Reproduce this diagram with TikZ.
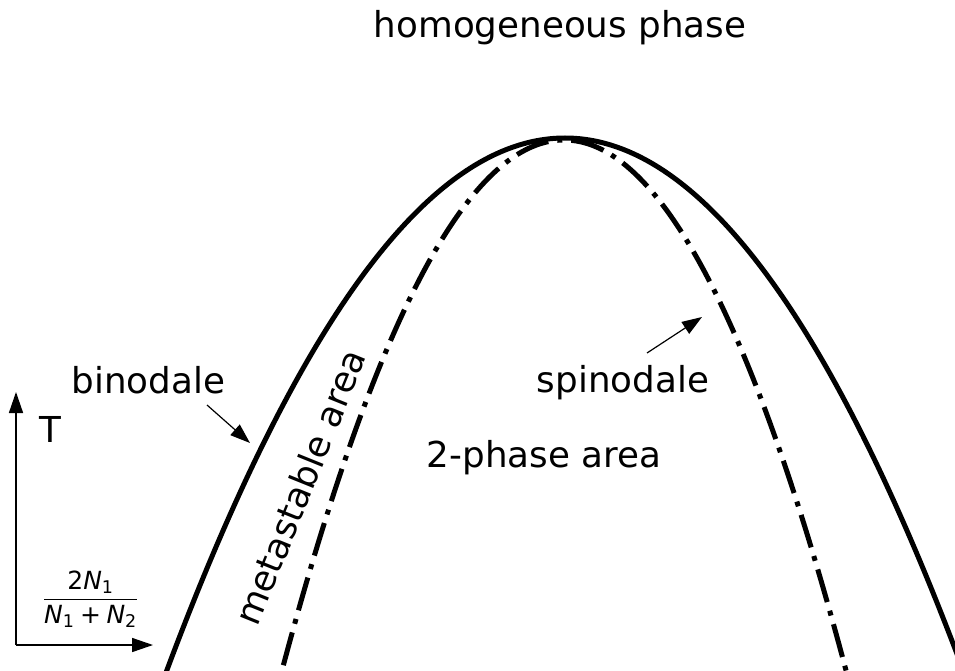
\documentclass[tikz,border=0pt]{standalone}
\usepackage{amsmath}
\usepackage{fontspec}
\setmainfont{DejaVu Sans}
\usetikzlibrary{arrows.meta}
\tikzset{
  lbl/.style={font=\fontsize{35.7}{42}\selectfont, inner sep=0pt, anchor=base},
  binod/.style={line width=5pt, line join=round},
  spinod/.style={line width=5pt, dash pattern=on 34pt off 9pt on 5pt off 9pt},
  axis/.style={line width=1.5pt, -{Triangle[length=21pt,width=14pt]}},
  pointer/.style={line width=1.2pt, -{Triangle[length=20pt,width=14pt]}}
}
\begin{document}
\begin{tikzpicture}[x=1pt,y=-1pt]
\useasboundingbox (0,0) rectangle (955,671);
\begin{scope}
\clip (0,0) rectangle (955,671);
\draw[binod] plot[domain=-1:1, samples=241, smooth] ({565+420*\x},{138+592.3*\x*\x});
\draw[spinod] plot[domain=-1:1, samples=241, smooth] ({564+295*\x},{140+580.4*\x*\x});
\end{scope}
% axes
\coordinate (O) at (16,645);
\coordinate (Ty) at (16,392);
\coordinate (Tx) at (153,645);
\draw[axis] (O) -- (Ty);
\draw[axis] (O) -- (Tx);
\node[lbl] (T) at (50,442) {T};
\node[inner sep=0pt, font=\fontsize{25}{30}\selectfont] (frac) at (90.5,599)
  {$\displaystyle\frac{\text{2\textit{N}}_{\text{1}}}{\text{\textit{N}}_{\text{1}}\mathbin{\text{+}}\text{\textit{N}}_{\text{2}}}$};
% labels
\node[lbl] (homog) at (560,38) {homogeneous phase};
\node[lbl] (binlab) at (148.5,393) {binodale};
\node[lbl] (spinlab) at (623,392) {spinodale};
\node[lbl] (twoph) at (544,467) {2-phase area};
\node[lbl, anchor=center, rotate=68] (meta) at (300,487) {metastable area};
% pointers
\coordinate (binend) at (250,443);
\coordinate (spinend) at (702,317);
\draw[pointer] (207,405) -- (binend);
\draw[pointer] (647,353) -- (spinend);
\end{tikzpicture}
\end{document}
